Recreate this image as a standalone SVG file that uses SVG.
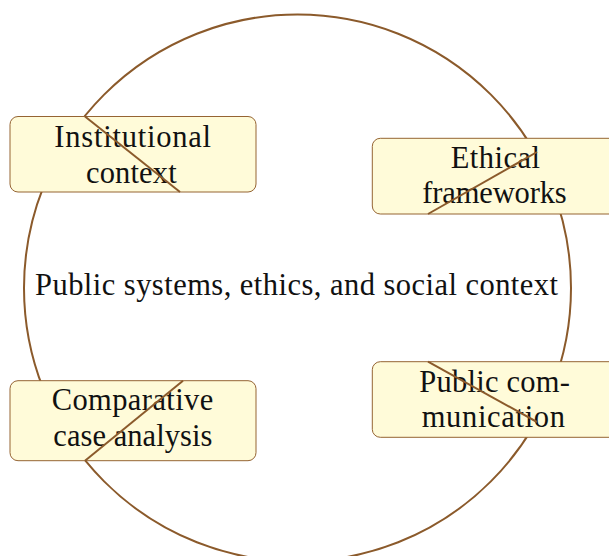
<svg xmlns="http://www.w3.org/2000/svg" width="609" height="556" viewBox="0 0 609 556">
<style>
.box{fill:#fffbd9;stroke:#956433;stroke-width:1}
.ln{stroke:#8b5a2b;stroke-width:2;fill:none}
text{font-family:"Liberation Serif","Times New Roman",serif;font-size:30.5px;fill:#111}
</style>
<rect width="609" height="556" fill="#ffffff"/>
<g id="main">
<circle class="ln" cx="297.5" cy="288" r="273.5"/>
<text x="35" y="295" textLength="523" lengthAdjust="spacing">Public systems, ethics, and social context</text>
</g>
<g id="n1">
<rect class="box" x="10" y="116.5" width="246" height="75.5" rx="8"/>
<text x="54.3" y="146.5" textLength="156.7" lengthAdjust="spacing">Institutional</text>
<text x="86" y="182.5" textLength="90.7" lengthAdjust="spacing">context</text>
</g>
<g id="n2">
<rect class="box" x="372.3" y="138.3" width="246" height="75.7" rx="8"/>
<text x="450.7" y="168.3" textLength="89.3" lengthAdjust="spacing">Ethical</text>
<text x="422.3" y="203.3" textLength="144.4" lengthAdjust="spacing">frameworks</text>
</g>
<g id="n3">
<rect class="box" x="10" y="380.7" width="246" height="80" rx="8"/>
<text x="51.7" y="410" textLength="161.6" lengthAdjust="spacing">Comparative</text>
<text x="53.3" y="446" textLength="159" lengthAdjust="spacing">case analysis</text>
</g>
<g id="n4">
<rect class="box" x="372.3" y="361.7" width="246" height="75.6" rx="8"/>
<text x="419.3" y="391.7" textLength="150.7" lengthAdjust="spacing">Public com-</text>
<text x="421.7" y="427.3" textLength="143.3" lengthAdjust="spacing">munication</text>
</g>
<g id="connectors">
<line class="ln" x1="85" y1="116.5" x2="180" y2="192"/>
<line class="ln" x1="537" y1="152" x2="428" y2="214"/>
<line class="ln" x1="183" y1="380.7" x2="85" y2="460.7"/>
<line class="ln" x1="428" y1="361.7" x2="537" y2="422"/>
</g>
</svg>
